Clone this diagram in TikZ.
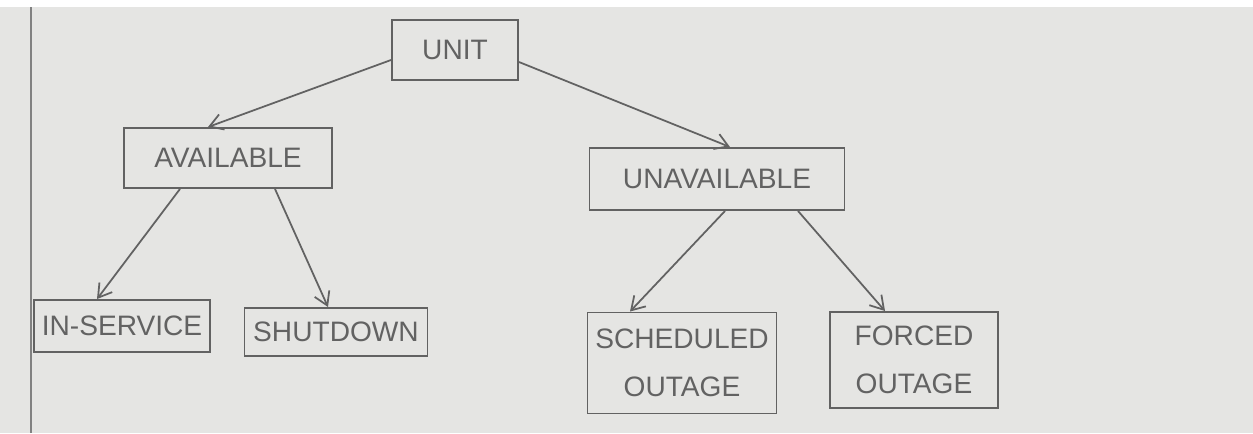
\documentclass[tikz,border=0pt]{standalone}
\usepackage{fontspec}
\setmainfont{Liberation Sans}
\usetikzlibrary{positioning, arrows.meta}
\usepackage{xcolor}
\definecolor{paper}{RGB}{229,229,227}
\definecolor{pencil}{RGB}{98,98,98}

\begin{document}
\begin{tikzpicture}[font=\fontsize{16}{19}\selectfont,
    state/.style={rectangle, draw=pencil, line width=1.1pt, text=pencil,
                  inner sep=0pt, align=center},
    splitarr/.style={-{Straight Barb[length=2.6mm, width=3.2mm]}, line width=1pt, color=pencil},
]

% ─── Paper + margin line ─────────────────────────────────────────
\fill[paper] (0, 0) rectangle (25.06, 8.52);
\fill[white] (0, 8.52) rectangle (25.06, 8.66);
\useasboundingbox (0, 0) rectangle (25.06, 8.66);
\draw[pencil!80, line width=0.8pt] (0.62, 0) -- (0.62, 8.52);

% ─── Root + two branches ─────────────────────────────────────────
\node[state, minimum width=2.52cm, minimum height=1.2cm] (unit) at (9.10, 7.66) {UNIT};

\node[state, minimum width=4.16cm, minimum height=1.2cm]  (avail)   at (4.56, 5.50) {AVAILABLE};
\node[state, minimum width=5.10cm, minimum height=1.24cm] (unavail) at (14.34, 5.08) {UNAVAILABLE};

% ─── Leaves ──────────────────────────────────────────────────────
\node[state, minimum width=3.52cm, minimum height=1.04cm] (inserv) at (2.44, 2.14) {IN-SERVICE};
\node[state, minimum width=3.66cm, minimum height=0.96cm] (shut)   at (6.72, 2.02) {SHUTDOWN};

\node[state, minimum width=3.78cm, minimum height=2.02cm] (sched)  at (13.64, 1.40) {SCHEDULED\\[3mm]OUTAGE};
\node[state, minimum width=3.36cm, minimum height=1.92cm] (forced) at (18.28, 1.46) {FORCED\\[3mm]OUTAGE};

% ─── Edges ───────────────────────────────────────────────────────
\draw[splitarr] ([yshift=-0.2cm]unit.west) -- ([xshift=-0.4cm]avail.north);
\draw[splitarr] ([yshift=-0.24cm]unit.east) -- ([xshift=0.26cm]unavail.north);

\draw[splitarr] ([xshift=-0.96cm]avail.south) -- ([xshift=-0.5cm]inserv.north);
\draw[splitarr] ([xshift=0.94cm]avail.south)  -- ([xshift=-0.16cm]shut.north);

\draw[splitarr] ([xshift=0.16cm]unavail.south) -- ([xshift=-1.04cm]sched.north);
\draw[splitarr] ([xshift=1.62cm]unavail.south) -- ([xshift=-0.58cm]forced.north);

\end{tikzpicture}
\end{document}
